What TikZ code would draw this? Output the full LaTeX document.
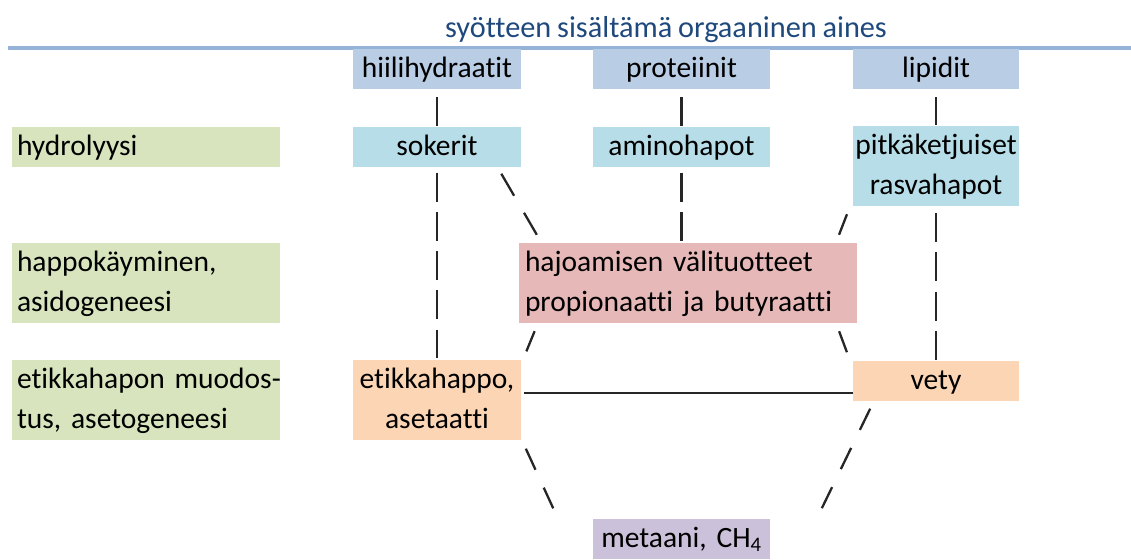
\documentclass[tikz,border=0pt]{standalone}
\usepackage{fontspec}
\setmainfont{Carlito}[Ligatures=NoCommon, WordSpace=0.85]
\usepackage{tikz}
\usetikzlibrary{calc}

\definecolor{titleblue}{HTML}{1F497D}
\definecolor{lineblue}{HTML}{95B3D7}
\definecolor{sourceblue}{HTML}{B9CDE5}
\definecolor{productaqua}{HTML}{B7DEE8}
\definecolor{stagegreen}{HTML}{D7E4BD}
\definecolor{midred}{HTML}{E6B9B8}
\definecolor{acidorange}{HTML}{FCD5B5}
\definecolor{gaspurple}{HTML}{CCC1DA}

\begin{document}
\begin{tikzpicture}[x=1pt,y=-1pt,
	every node/.style={font=\fontsize{29.5pt}{40pt}\selectfont, text height=22pt, text depth=5pt, inner ysep=6.5pt},
	box/.style={fill=#1, inner xsep=0pt, align=center},
	stage/.style={fill=stagegreen, text width=258pt, inner xsep=5pt, align=left},
	twoline/.style={text depth=45pt},
	pipe/.style={black!85, line width=2.3pt, dash pattern=on 29pt off 10.25pt},
	slash/.style={black!85, line width=2.3pt}]
	\useasboundingbox (0,0) rectangle (1131,559);
	% otsikko ja viiva
	\node[text=titleblue, font=\fontsize{30.3pt}{40pt}\selectfont] (title) at (666,29.5) {syötteen sisältämä orgaaninen aines};
	\draw[lineblue, line width=4pt] (8,48) -- (1131,48);
	% syöte
	\node[box=sourceblue, text width=168pt] (hii) at (437,69.5) {hiilihydraatit};
	\node[box=sourceblue, text width=177pt] (pro) at (681.5,69.5) {proteiinit};
	\node[box=sourceblue, text width=166pt] (lip) at (936,69.5) {lipidit};
	% hydrolyysi
	\node[stage] (hyd) at (146,146.5) {hydrolyysi};
	\node[box=productaqua, text width=168pt] (sok) at (437,146.5) {sokerit};
	\node[box=productaqua, text width=177pt] (ami) at (681.5,146.5) {aminohapot};
	\node[box=productaqua, text width=166pt, twoline] (pit) at (936,166) {\mbox{pitkäketjuiset}\\rasvahapot};
	% happokäyminen
	\node[stage, twoline] (hap) at (146,283) {happokäyminen,\\asidogeneesi};
	\node[fill=midred, twoline, text width=326pt, inner xsep=6pt, align=left] (haj) at (688,283) {hajoamisen välituotteet\\propionaatti ja butyraatti};
	% asetogeneesi
	\node[stage, twoline] (aset) at (146,399.5) {\mbox{etikkahapon muodos-}\\tus, asetogeneesi};
	\node[box=acidorange, text width=168pt, twoline] (etk) at (437,399.5) {etikkahappo,\\asetaatti};
	\node[box=acidorange, text width=166pt] (vet) at (936,380.5) {vety};
	\node[box=gaspurple, text width=177pt] (met) at (681.5,538.5) {metaani, CH\textsubscript{4}};

	\foreach \a/\b in {hii/sok, pro/ami, lip/pit}
	{
		\draw[slash, shorten <=7.5pt, shorten >=0.5pt] (\a) -- (\b);
	}
	\draw[pipe, shorten <=6pt, shorten >=1pt] (sok) -- (etk);
	\draw[pipe, shorten <=6pt, shorten >=1pt] (ami) -- (ami |- haj.north);
	\draw[pipe, shorten <=7pt] (pit) -- (vet);

	\draw[slash, dash pattern=on 25.5pt off 19.7pt, shorten <=8.1pt, shorten >=9.3pt]
		($(sok.south east)+(-24,0)$) -- ($(haj.north west)+(22.7,0)$);
	\draw[slash, shorten <=8.6pt, shorten >=8.6pt]
		($(pit.south west)+(-2.7,0)$) -- ($(haj.north east)+(-21.3,0)$);
	\draw[slash, shorten <=8.6pt, shorten >=8.6pt]
		($(haj.south west)+(19.1,0)$) -- ($(etk.north east)+(1.9,0)$);
	\draw[slash, shorten <=8.6pt, shorten >=8.6pt]
		($(haj.south east)+(-21.1,0)$) -- ($(vet.north west)+(-2.9,0)$);
	\draw[black!85, line width=1.8pt] ($(etk.north east)+(3,33.5)$) -- ($(vet.north west)+(0,32.5)$);
	\draw[slash, dash pattern=on 23.1pt off 19.8pt, shorten <=9.9pt, shorten >=11pt]
		($(etk.south east)+(0.5,0)$) -- ($(met.north west)+(-35,0)$);
	\draw[slash, dash pattern=on 23.5pt off 20.1pt, shorten <=8.9pt, shorten >=11.2pt]
		($(vet.south west)+(21.25,0)$) -- ($(met.north east)+(46.75,0)$);
\end{tikzpicture}
\end{document}
